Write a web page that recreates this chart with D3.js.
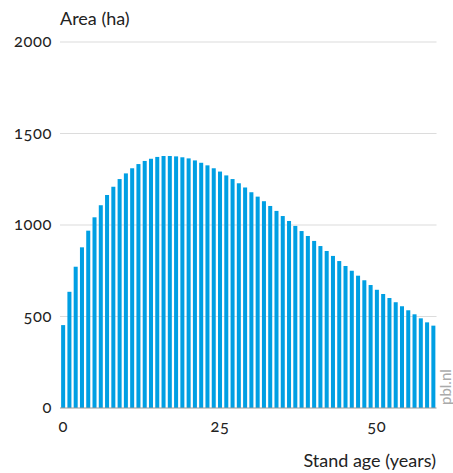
<!DOCTYPE html>
<html><head><meta charset="utf-8">
<script src="https://cdn.jsdelivr.net/npm/d3@7"></script>
<style>
body{margin:0;background:#fff;}
svg text{font-family:Lato,"Open Sans",sans-serif;font-variant-numeric:oldstyle-nums;font-feature-settings:"onum" 1;}
</style>
</head><body><svg id="c" width="453" height="473"></svg>
<script>
const ages = d3.range(0, 60);
const areas = [453,635,772,878,969,1042,1108,1164,1209,1251,1282,1310,1333,1350,1362,1372,1377,1377,1375,1370,
1364,1353,1340,1326,1310,1292,1271,1251,1228,1205,1179,1155,1130,1104,1077,1049,1022,995,967,940,
913,885,858,831,803,776,750,723,698,672,646,623,601,578,556,534,512,490,468,450];
const yTicks = [0,500,1000,1500,2000];
const xTicks = [0,25,50];
const yTitle = "Area (ha)";
const xTitle = "Stand age (years)";
const credit = "pbl.nl";

const svg = d3.select("#c");
const mLeft = 60, mRight = 436.5, mTop = 42, mBottom = 408;
const x = d3.scaleBand().domain(ages).range([mLeft, mRight]).paddingInner(0.36).paddingOuter(0.18);
const y = d3.scaleLinear().domain([0, 2000]).range([mBottom, mTop]);

// gridlines
svg.append("g").selectAll("line").data(yTicks.filter(d => d > 0)).join("line")
  .attr("x1", mLeft).attr("x2", mRight).attr("y1", d => y(d)).attr("y2", d => y(d))
  .attr("stroke", "#dcdcdc").attr("stroke-width", 1.2);

// y labels
svg.append("g").selectAll("text").data(yTicks).join("text")
  .attr("x", 52).attr("y", d => y(d)).attr("dy", "0.32em").attr("text-anchor", "end")
  .attr("font-size", 16.5).attr("letter-spacing", 0.6).attr("fill", "#222").text(d => d);

// bars
svg.append("g").selectAll("rect").data(ages).join("rect")
  .attr("x", d => x(d)).attr("width", x.bandwidth())
  .attr("y", (d, i) => y(areas[i])).attr("height", (d, i) => y(0) - y(areas[i]))
  .attr("fill", "#009fe3");

// baseline
svg.append("line").attr("x1", mLeft).attr("x2", mRight).attr("y1", y(0)).attr("y2", y(0))
  .attr("stroke", "#999").attr("stroke-width", 1.2);

// x labels
svg.append("g").selectAll("text").data(xTicks).join("text")
  .attr("x", d => x(d) + x.bandwidth() / 2).attr("y", 432).attr("text-anchor", "middle")
  .attr("font-size", 16.5).attr("letter-spacing", 0.6).attr("fill", "#222").text(d => d);

svg.append("text").attr("x", 60).attr("y", 25).attr("font-size", 18).attr("fill", "#222").text(yTitle);
svg.append("text").attr("x", 436).attr("y", 467).attr("text-anchor", "end").attr("font-size", 18).attr("fill", "#222").text(xTitle);
svg.append("text").attr("transform", "translate(451,405) rotate(-90)").attr("font-size", 15).attr("fill", "#aaa").text(credit);
</script></body></html>
